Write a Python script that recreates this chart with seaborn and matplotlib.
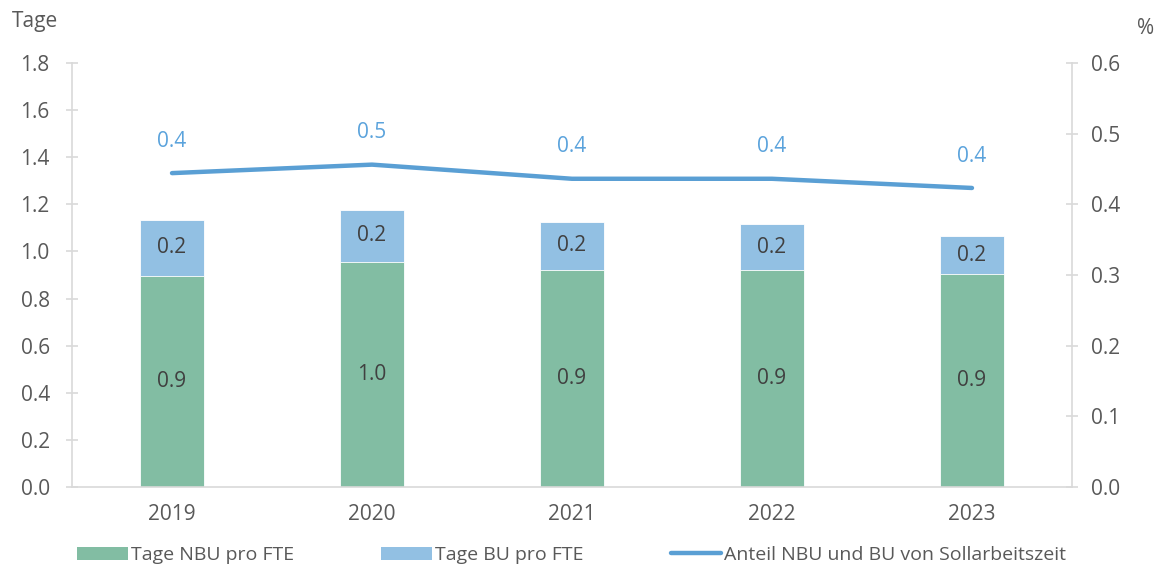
import matplotlib
matplotlib.use("Agg")
import matplotlib.pyplot as plt
import seaborn as sns
import numpy as np
import pandas as pd
from matplotlib.patches import Patch
from matplotlib.lines import Line2D

years = ["2019", "2020", "2021", "2022", "2023"]
nbu = [0.896, 0.955, 0.921, 0.921, 0.904]
bu = [0.237, 0.221, 0.204, 0.195, 0.161]
anteil = [0.444, 0.456, 0.436, 0.436, 0.423]

total = [a + b for a, b in zip(nbu, bu)]

sns.set_theme(style="white")
plt.rcParams['font.family'] = ['Open Sans', 'DejaVu Sans']

green = "#82BDA3"
lblue = "#92C0E3"
lcol = "#5A9FD4"
txt = "#404040"
tickc = "#595959"
grid = "#D9D9D9"
FS = 15

df = pd.DataFrame({"year": years, "nbu": nbu, "bu": bu, "total": total, "anteil": anteil})

fig = plt.figure(figsize=(11.69, 5.71), dpi=100)
ax = fig.add_axes([0.0616, 0.147, 0.917 - 0.0616, 0.890 - 0.147])

sns.barplot(data=df, x="year", y="total", color=lblue, width=0.32, ax=ax, saturation=1,
            edgecolor="white", linewidth=0.6)
sns.barplot(data=df, x="year", y="nbu", color=green, width=0.32, ax=ax, saturation=1,
            edgecolor="white", linewidth=0.6)

ax.set_xlim(-0.5, 4.5)
ax.set_ylim(0, 1.8)
ax.set_yticks(np.arange(0, 1.81, 0.2))
ax.set_yticklabels([f"{v:.1f}" for v in np.arange(0, 1.81, 0.2)])
ax.set_xlabel("")
ax.set_ylabel("")

for i in range(len(years)):
    ax.text(i, nbu[i] / 2, f"{nbu[i]:.1f}", ha="center", va="center", fontsize=FS, color=txt)
    ax.text(i, nbu[i] + bu[i] / 2, f"{bu[i]:.1f}", ha="center", va="center", fontsize=FS, color=txt)

ax2 = ax.twinx()
sns.lineplot(x=np.arange(len(years)), y=anteil, ax=ax2, color=lcol, linewidth=3.2)
ax2.set_ylim(0, 0.6)
ax2.set_yticks(np.arange(0, 0.61, 0.1))
ax2.set_yticklabels([f"{v:.1f}" for v in np.arange(0, 0.61, 0.1)])
for i, v in enumerate(anteil):
    ax2.annotate(f"{v:.1f}", (i, v), xytext=(0, 23), textcoords="offset points",
                 ha="center", va="center", fontsize=FS, color="#5BA3DC")

for a in (ax, ax2):
    for s in a.spines.values():
        s.set_visible(False)

ax.spines["left"].set_visible(True)
ax.spines["left"].set_color(grid)
ax.spines["left"].set_linewidth(1.2)
ax.spines["bottom"].set_visible(True)
ax.spines["bottom"].set_color(grid)
ax.spines["bottom"].set_linewidth(1.2)
ax2.spines["right"].set_visible(True)
ax2.spines["right"].set_color(grid)
ax2.spines["right"].set_linewidth(1.2)

ax.tick_params(axis="y", length=8, direction="inout", color=grid, width=1.2, pad=12,
               labelcolor=tickc, labelsize=FS)
ax2.tick_params(axis="y", length=8, direction="inout", color=grid, width=1.2, pad=10,
                labelcolor=tickc, labelsize=FS)
ax.tick_params(axis="x", labelcolor=tickc, labelsize=FS, length=0, pad=12)

fig.text(0.010, 0.962, "Tage", fontsize=FS, color=tickc, ha="left", va="center")
fig.text(0.987, 0.950, "%", fontsize=FS, color=tickc, ha="right", va="center")

handles = [Patch(facecolor=green, edgecolor="none"),
           Patch(facecolor=lblue, edgecolor="none"),
           Line2D([0], [0], color=lcol, linewidth=3.2)]
labels = ["Tage NBU pro FTE", "Tage BU pro FTE", "Anteil NBU und BU von Sollarbeitszeit"]
fig.legend(handles, labels, loc="center", bbox_to_anchor=(0.489, 0.028), ncol=3, frameon=False,
           fontsize=14, handlelength=2.6, handleheight=0.65, handletextpad=0.15,
           columnspacing=4.5, labelcolor=tickc)

fig.savefig("out.png", dpi=100)
